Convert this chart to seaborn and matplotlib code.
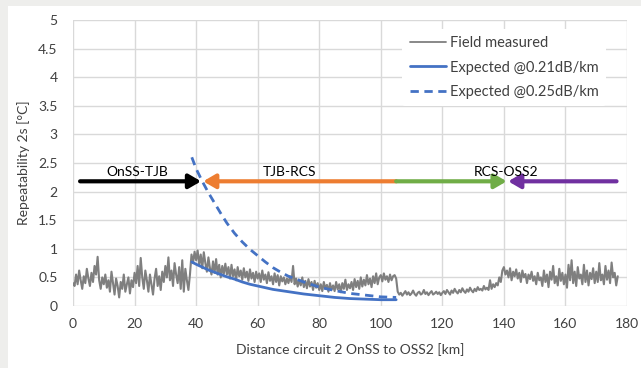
import matplotlib
matplotlib.use("Agg")
import matplotlib.pyplot as plt
from matplotlib.patches import Rectangle
from matplotlib.lines import Line2D
import numpy as np
import pandas as pd
import seaborn as sns

# Field measured repeatability, one value every 0.5 km (0 .. 177 km)
step_km = 0.5
measured = [
    # 0 - 9.5 km
    0.40, 0.35, 0.55, 0.38, 0.62, 0.45, 0.30, 0.52, 0.40, 0.65, 0.48, 0.35, 0.58, 0.42, 0.70, 0.55, 0.86, 0.45, 0.30, 0.50,
    # 10 - 19.5 km
    0.38, 0.55, 0.32, 0.45, 0.25, 0.60, 0.40, 0.20, 0.48, 0.35, 0.15, 0.42, 0.30, 0.55, 0.25, 0.38, 0.50, 0.22, 0.45, 0.33,
    # 20 - 29.5 km
    0.58, 0.40, 0.70, 0.35, 0.84, 0.50, 0.30, 0.62, 0.45, 0.25, 0.55, 0.38, 0.20, 0.48, 0.65, 0.35, 0.52, 0.28, 0.60, 0.42,
    # 30 - 39.5 km
    0.70, 0.50, 0.85, 0.45, 0.62, 0.35, 0.75, 0.55, 0.40, 0.68, 0.30, 0.80, 0.25, 0.65, 0.45, 0.28, 0.55, 0.90, 0.75, 0.95,
    # 40 - 49.5 km
    0.80, 0.97, 0.72, 0.90, 0.66, 0.94, 0.75, 0.60, 0.85, 0.66, 0.55, 0.78, 0.58, 0.82, 0.55, 0.72, 0.50, 0.70, 0.56, 0.74,
    # 50 - 59.5 km
    0.55, 0.68, 0.48, 0.72, 0.52, 0.64, 0.45, 0.68, 0.52, 0.62, 0.46, 0.66, 0.50, 0.60, 0.44, 0.64, 0.48, 0.58, 0.42, 0.60,
    # 60 - 69.5 km
    0.48, 0.57, 0.42, 0.62, 0.46, 0.55, 0.40, 0.59, 0.44, 0.52, 0.38, 0.57, 0.42, 0.54, 0.36, 0.52, 0.43, 0.50, 0.38, 0.48,
    # 70 - 79.5 km
    0.40, 0.52, 0.42, 0.70, 0.38, 0.48, 0.34, 0.46, 0.36, 0.50, 0.33, 0.44, 0.31, 0.47, 0.34, 0.42, 0.28, 0.44, 0.32, 0.40,
    # 80 - 89.5 km
    0.28, 0.38, 0.26, 0.42, 0.30, 0.37, 0.25, 0.40, 0.28, 0.36, 0.26, 0.42, 0.29, 0.38, 0.24, 0.40, 0.30, 0.46, 0.28, 0.38,
    # 90 - 99.5 km
    0.31, 0.42, 0.28, 0.47, 0.33, 0.44, 0.30, 0.50, 0.34, 0.46, 0.36, 0.54, 0.38, 0.48, 0.33, 0.52, 0.40, 0.57, 0.38, 0.50,
    # 100 - 109.5 km
    0.54, 0.43, 0.57, 0.46, 0.52, 0.42, 0.55, 0.45, 0.52, 0.54, 0.48, 0.25, 0.20, 0.23, 0.18, 0.22, 0.26, 0.20, 0.24, 0.19,
    # 110 - 119.5 km
    0.22, 0.27, 0.21, 0.18, 0.23, 0.25, 0.20, 0.22, 0.28, 0.21, 0.24, 0.19, 0.23, 0.26, 0.20, 0.22, 0.25, 0.21, 0.24, 0.19,
    # 120 - 129.5 km
    0.23, 0.26, 0.21, 0.28, 0.24, 0.20, 0.27, 0.23, 0.30, 0.25, 0.22, 0.28, 0.24, 0.31, 0.26, 0.23, 0.29, 0.25, 0.32, 0.27,
    # 130 - 139.5 km
    0.24, 0.30, 0.26, 0.33, 0.28, 0.30, 0.27, 0.35, 0.29, 0.32, 0.28, 0.45, 0.30, 0.38, 0.33, 0.40, 0.36, 0.50, 0.42, 0.62,
    # 140 - 149.5 km
    0.68, 0.55, 0.62, 0.50, 0.66, 0.45, 0.60, 0.52, 0.64, 0.48, 0.58, 0.42, 0.62, 0.50, 0.56, 0.40, 0.55, 0.47, 0.60, 0.44,
    # 150 - 159.5 km
    0.52, 0.38, 0.58, 0.45, 0.50, 0.35, 0.62, 0.42, 0.55, 0.33, 0.60, 0.46, 0.70, 0.40, 0.52, 0.36, 0.65, 0.44, 0.58, 0.38,
    # 160 - 169.5 km
    0.55, 0.32, 0.72, 0.45, 0.80, 0.40, 0.60, 0.35, 0.68, 0.48, 0.55, 0.38, 0.72, 0.42, 0.62, 0.36, 0.58, 0.47, 0.66, 0.40,
    # 170 - 177 km
    0.60, 0.42, 0.75, 0.45, 0.55, 0.38, 0.70, 0.46, 0.62, 0.40, 0.76, 0.50, 0.58, 0.36, 0.52,
]
distance = np.arange(len(measured)) * step_km

# Expected curves
exp_km = [38.6, 40, 42, 44, 46, 48, 50, 52.5, 55, 57.5, 60, 62.5, 65, 67.5, 70, 75, 80, 85, 90, 95, 100, 105]
exp_021 = [0.77, 0.73, 0.68, 0.63, 0.59, 0.55, 0.51, 0.47, 0.42, 0.38, 0.35, 0.32, 0.29, 0.27, 0.25, 0.21, 0.18, 0.15, 0.13, 0.12, 0.11, 0.11]
exp_025 = [2.60, 2.40, 2.18, 1.98, 1.80, 1.62, 1.45, 1.27, 1.12, 0.99, 0.88, 0.77, 0.67, 0.59, 0.52, 0.42, 0.33, 0.27, 0.22, 0.19, 0.16, 0.15]

# Cable sections shown as arrows
seg_labels = ["OnSS-TJB", "TJB-RCS", "", "RCS-OSS2"]
seg_from = [2.3, 105.0, 105.0, 176.6]
seg_to = [41.6, 42.3, 140.9, 141.4]
seg_colors = ["#000000", "#ED7D31", "#70AD47", "#7030A0"]
seg_level = 2.18
label_x = [20.8, 70.2, None, 140.7]

df_meas = pd.DataFrame({"km": distance, "val": measured})
df_exp = pd.DataFrame({"km": exp_km, "a": exp_021, "b": exp_025})

sns.set_theme(style="whitegrid")
plt.rcParams["font.family"] = ["Lato", "DejaVu Sans"]

fig = plt.figure(figsize=(6.41, 3.68), dpi=100, facecolor="#eeeeec")
bg = Rectangle((8 / 641, 0), 1, 362 / 368, transform=fig.transFigure,
               facecolor="white", edgecolor="none", zorder=-10)
fig.add_artist(bg)
ax = fig.add_axes([73 / 641, 1 - 306 / 368, 554 / 641, 286 / 368])
ax.set_zorder(1)
ax.set_facecolor("white")

sns.lineplot(data=df_meas, x="km", y="val", ax=ax, color="#7f7f7f", lw=1.5, zorder=3)
sns.lineplot(data=df_exp, x="km", y="a", ax=ax, color="#4472C4", lw=2.0, zorder=4)
sns.lineplot(data=df_exp, x="km", y="b", ax=ax, color="#4472C4", lw=2.0, ls=(0, (3, 2)), zorder=4)

for lab, x0, x1, c, lx in zip(seg_labels, seg_from, seg_to, seg_colors, label_x):
    ax.annotate("", xy=(x1, seg_level), xytext=(x0, seg_level),
                arrowprops=dict(arrowstyle="-|>,head_length=0.6,head_width=0.35", lw=3.0,
                                color=c, shrinkA=0, shrinkB=0, mutation_scale=12), zorder=5)
    if lab:
        ax.text(lx, seg_level + 0.16, lab, ha="center", va="center", fontsize=10, color="#000000", zorder=6)

ax.set_xlim(0, 180)
ax.set_ylim(0, 5)
ax.set_xticks(np.arange(0, 181, 20))
ax.set_yticks(np.arange(0, 5.01, 0.5))
ax.set_yticklabels(["0", "0.5", "1", "1.5", "2", "2.5", "3", "3.5", "4", "4.5", "5"])
ax.grid(True, color="#d9d9d9", lw=1.0)
for s in ax.spines.values():
    s.set_visible(False)
ax.tick_params(axis="both", length=0, labelsize=10, colors="#404040")
ax.tick_params(axis="y", pad=11)
ax.tick_params(axis="x", pad=9)
ax.set_xlabel("Distance circuit 2 OnSS to OSS2 [km]", fontsize=10, color="#404040", labelpad=9)
ax.set_ylabel("Repeatability 2s [°C]", fontsize=10, color="#404040", labelpad=6)

handles = [
    Line2D([], [], color="#7f7f7f", lw=1.3),
    Line2D([], [], color="#4472C4", lw=2.0),
    Line2D([], [], color="#4472C4", lw=2.0, ls=(0, (3, 2))),
]
leg = ax.legend(handles, ["Field measured", "Expected @0.21dB/km", "Expected @0.25dB/km"],
                loc="upper right", bbox_to_anchor=(0.975, 0.995), fontsize=10.5, frameon=True,
                facecolor="white", edgecolor="none", framealpha=1, handlelength=2.5,
                handletextpad=0.25, labelspacing=0.72, borderpad=0.5)
for t in leg.get_texts():
    t.set_color("#404040")

fig.savefig("out.png", dpi=100, facecolor=fig.get_facecolor())
